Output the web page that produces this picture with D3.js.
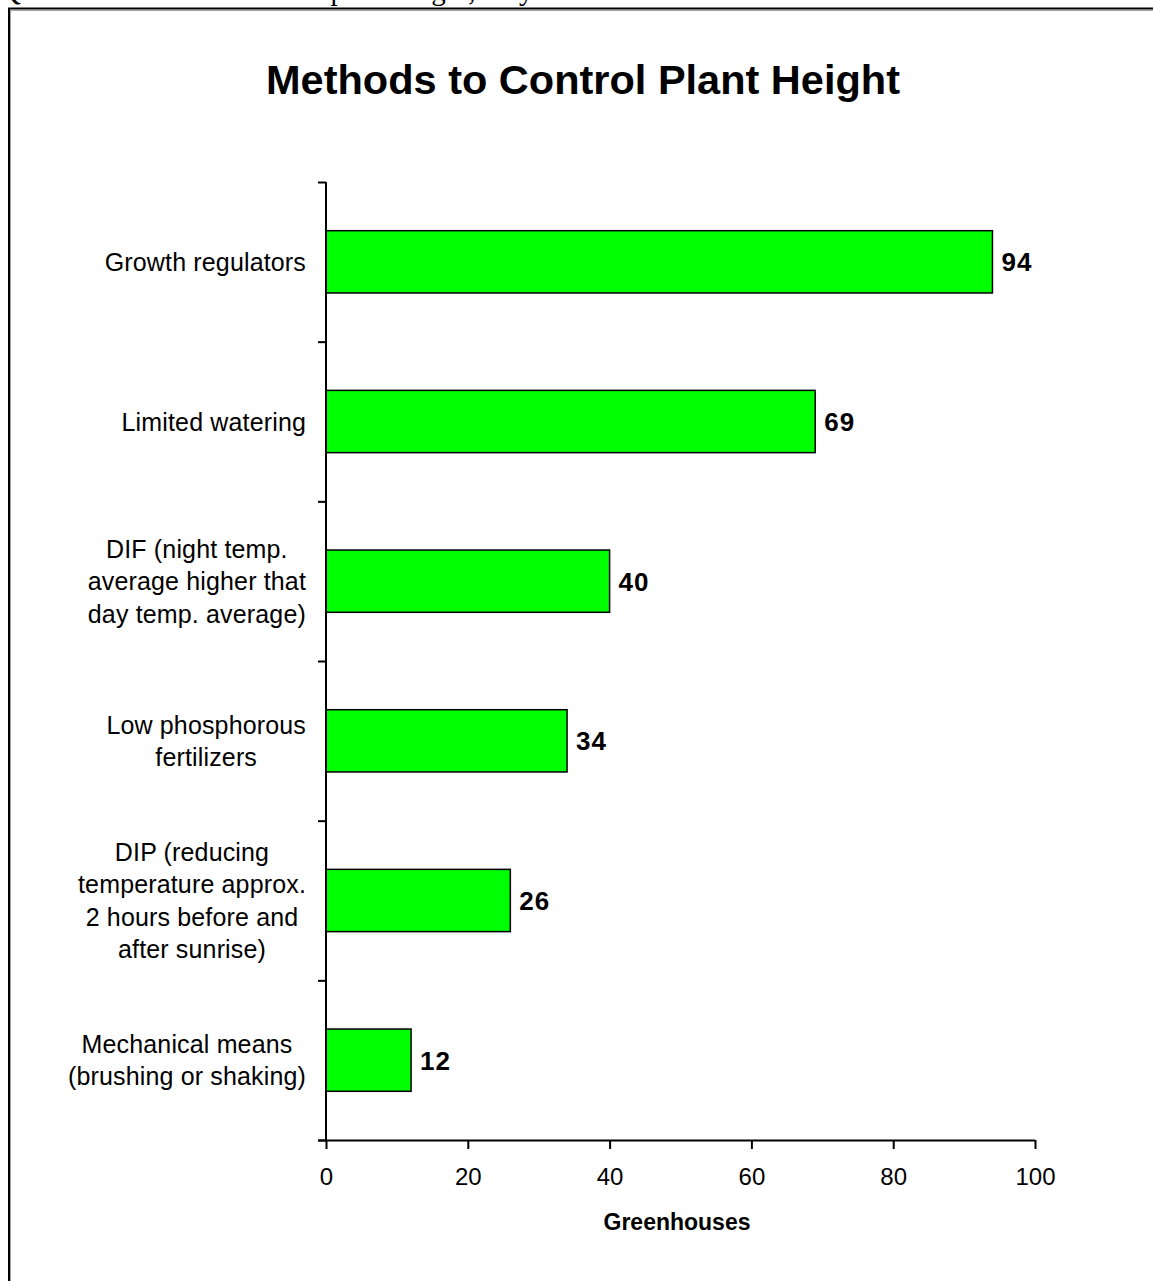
<!DOCTYPE html>
<html>
<head>
<meta charset="utf-8">
<script src="https://cdn.jsdelivr.net/npm/d3@7"></script>
<style>
  html, body { margin: 0; padding: 0; background: #fff; overflow: hidden; }
  svg { display: block; }
</style>
</head>
<body>
<svg id="chart" width="1153" height="1281"></svg>
<script>
// Survey question heading and chart texts
const questionText = "Q: What methods to control plant height, do you use?";
const chartTitle = "Methods to Control Plant Height";
const xAxisTitle = "Greenhouses";

// Categories (line breaks mark how each label wraps) and counts
const categories = [
  "Growth regulators",
  "Limited watering",
  "DIF (night temp.\naverage higher that\nday temp. average)",
  "Low phosphorous\nfertilizers",
  "DIP (reducing\ntemperature approx.\n2 hours before and\nafter sunrise)",
  "Mechanical means\n(brushing or shaking)"
];
const values = [94, 69, 40, 34, 26, 12];
const xTicks = [0, 20, 40, 60, 80, 100];

const svg = d3.select("#chart");
const sans = "'Liberation Sans', Arial, sans-serif";

// Page frame around the chart
svg.append("path")
  .attr("d", "M10.5,1281 V10.5 H1153")
  .attr("fill", "none").attr("stroke", "#a0a0a0").attr("stroke-width", 1);
svg.append("path")
  .attr("d", "M9,1281 V8.5 H1153")
  .attr("fill", "none").attr("stroke", "#000").attr("stroke-width", 2);

// Question line, running off the top edge
svg.append("text")
  .attr("x", 0).attr("y", -0.5)
  .attr("font-family", "'Liberation Serif', 'Times New Roman', serif")
  .attr("font-size", 29)
  .attr("fill", "#000")
  .text(questionText);

// Title
svg.append("text")
  .attr("x", 583).attr("y", 94)
  .attr("text-anchor", "middle")
  .attr("font-family", sans)
  .attr("font-weight", "bold")
  .attr("font-size", 41.5)
  .attr("fill", "#000")
  .text(chartTitle);

// Scales
const x = d3.scaleLinear().domain([0, 100]).range([326, 1035]);
const y = d3.scaleBand().domain(categories).range([182, 1140]);
const barFrac = 0.39;
const barH = y.bandwidth() * barFrac;
const barOff = (y.bandwidth() - barH) / 2;

// Bars
svg.append("g").selectAll("rect")
  .data(categories)
  .join("rect")
  .attr("x", x(0))
  .attr("y", (d) => y(d) + barOff)
  .attr("width", (d, i) => x(values[i]) - x(0))
  .attr("height", barH)
  .attr("fill", "#00ff00")
  .attr("stroke", "#000")
  .attr("stroke-width", 1.5);

// Value labels
svg.append("g").selectAll("text")
  .data(categories)
  .join("text")
  .attr("x", (d, i) => x(values[i]) + 9)
  .attr("y", (d) => y(d) + y.bandwidth() / 2 + 9.5)
  .attr("font-family", sans)
  .attr("font-weight", "bold")
  .attr("font-size", 26)
  .attr("letter-spacing", 1)
  .attr("fill", "#000")
  .text((d, i) => values[i]);

// X axis
const xAxis = svg.append("g")
  .attr("transform", `translate(0,${y.range()[1]})`)
  .call(d3.axisBottom(x).tickValues(xTicks).tickSize(9).tickSizeOuter(0).tickPadding(19));
xAxis.select(".domain").attr("stroke", "#000").attr("stroke-width", 2)
  .attr("d", `M${x(0) - 8},0.5H${x(100)}`);
xAxis.selectAll(".tick line").attr("stroke", "#000").attr("stroke-width", 2);
xAxis.selectAll(".tick text")
  .attr("font-family", sans).attr("font-size", 24).attr("fill", "#000");

// X axis title
svg.append("text")
  .attr("x", 677).attr("y", 1230)
  .attr("text-anchor", "middle")
  .attr("font-family", sans)
  .attr("font-weight", "bold")
  .attr("font-size", 23)
  .attr("fill", "#000")
  .text(xAxisTitle);

// Y axis line with ticks at category boundaries
const yg = svg.append("g");
yg.append("line")
  .attr("x1", x(0)).attr("x2", x(0))
  .attr("y1", y.range()[0]).attr("y2", y.range()[1] + 1)
  .attr("stroke", "#000").attr("stroke-width", 2);
const bounds = categories.map((c) => y(c)).concat([y.range()[1]]);
yg.selectAll("line.tick")
  .data(bounds)
  .join("line")
  .attr("class", "tick")
  .attr("x1", x(0) - 8).attr("x2", x(0))
  .attr("y1", (d) => d + 0.5).attr("y2", (d) => d + 0.5)
  .attr("stroke", "#000").attr("stroke-width", 2);

// Category labels: wrapped lines centred within a right-aligned block
const lineH = 32.5;
const labelRight = 306;
categories.forEach((c) => {
  const lines = c.split("\n");
  const g = svg.append("g");
  const texts = lines.map((ln) => g.append("text")
    .attr("font-family", sans)
    .attr("font-size", 25)
    .attr("letter-spacing", 0.15)
    .attr("fill", "#000")
    .attr("text-anchor", "middle")
    .text(ln));
  const maxW = d3.max(texts, (t) => t.node().getComputedTextLength());
  const cx = labelRight - maxW / 2;
  const cy = y(c) + y.bandwidth() / 2;
  texts.forEach((t, i) => {
    t.attr("x", cx)
     .attr("y", cy + (i - (lines.length - 1) / 2) * lineH + 9);
  });
});
</script>
</body>
</html>
